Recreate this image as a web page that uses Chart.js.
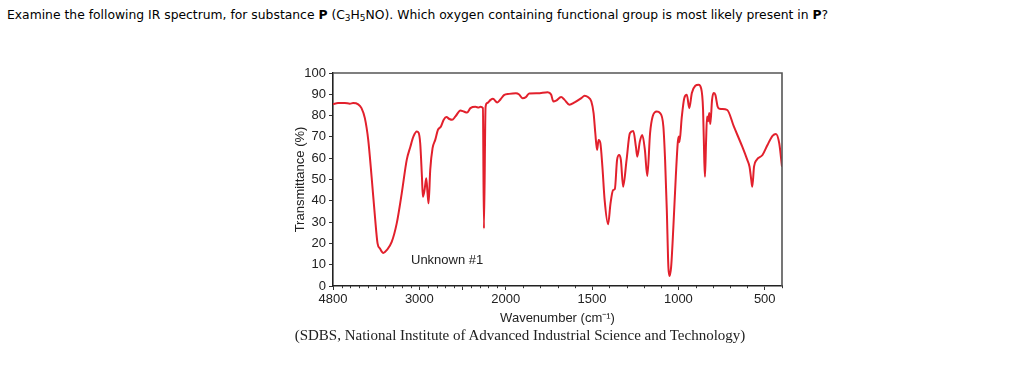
<!DOCTYPE html>
<html><head><meta charset="utf-8">
<script src="https://cdn.jsdelivr.net/npm/chart.js@4.4.0/dist/chart.umd.min.js"></script>
<style>
html,body{margin:0;padding:0;background:#fff;}
#wrap{position:relative;width:1024px;height:383px;overflow:hidden;}
#q{position:absolute;left:7px;top:8px;font-family:'DejaVu Sans',Verdana,sans-serif;font-size:12.35px;color:#000;white-space:nowrap;}
#q sub{font-size:9px;vertical-align:-2px;line-height:0;}
#cap{position:absolute;left:0;width:1040px;top:327px;text-align:center;font-family:'Liberation Serif','Times New Roman',serif;font-size:15px;color:#222;white-space:nowrap;}
canvas{position:absolute;left:0;top:0;}
</style></head>
<body><div id="wrap">
<div id="q">Examine the following IR spectrum, for substance <b>P</b> (C<sub>3</sub>H<sub>5</sub>NO). Which oxygen containing functional group is most likely present in <b>P</b>?</div>
<canvas id="c" width="1024" height="383"></canvas>
<div id="cap">(SDBS, National Institute of Advanced Industrial Science and Technology)</div>
</div>
<script>
// ---- data ----
const wavenumbers = [4000,3942,3864,3805,3767,3708,3670,3631,3592,3553,3514,3484,3456,3417,3378,3320,3262,3204,3146,3104,3068,3029,3009,2990,2970,2959,2940,2920,2905,2893,2874,2847,2816,2785,2750,2718,2687,2652,2621,2582,2524,2485,2447,2408,2350,2311,2292,2264,2252,2233,2214,2175,2148,2098,2059,2020,1980,1941,1922,1903,1883,1864,1815,1757,1737,1724,1708,1679,1660,1631,1601,1562,1543,1524,1504,1491,1481,1471,1462,1452,1440,1427,1407,1393,1378,1368,1355,1343,1333,1320,1300,1281,1261,1246,1238,1223,1209,1194,1180,1164,1149,1125,1106,1087,1077,1067,1058,1052,1042,1029,1015,1003,997,994,980,966,951,937,922,902,883,869,857,850,846,840,834,828,821,815,805,796,786,773,761,718,679,630,601,588,578,572,562,547,513,484,455,435,416,400];
const transmittance = [85.4,85.9,85.9,85.6,85.9,85.3,83.5,78.8,68.6,51.3,32.5,20,17.6,15.5,16.8,20.7,29.4,43.5,59.2,65.4,70.2,72.5,72,67,51.3,41.9,45,50.6,43.5,38.8,54.5,64.7,68.6,73.3,74.9,78,79.3,78.4,78,79.6,82.4,81.9,81.4,83.5,84.1,83.8,84.1,83.5,27,84.1,85.9,87.4,87.9,86.2,87.7,89.6,90.2,90.5,89.9,88.2,88.7,90.4,90.5,91,89.9,86.6,87,88.7,87.5,85.1,86.2,88.2,89.3,88.7,86.6,81.2,71.7,63.9,68.6,67.2,56,40.3,29,38.8,45,45.5,59.2,61.5,59.2,46.6,59.2,71.7,72.8,65.4,60.7,67.9,70.9,63.9,51.6,71.7,79.6,81.9,81.2,74.9,59.2,35.6,9,4.7,9,27.8,51.3,67.8,70.2,67.5,79.6,88.2,89.8,83.5,90.6,94,94.5,93,82.7,59.2,51.3,67,79.6,77.3,81.2,76,87.4,90.6,89.8,84.3,83.2,82.7,74.9,65.4,59.2,56,49.8,46.6,56,59.2,61.5,66.2,70.5,71.4,67,56];
const xTickValues = [4000,3500,3000,2500,2000,1500,1000,500];
const xTickLabels = ['4800','','3000','','2000','1500','1000','500'];
const xMinorTicks = [3900,3800,3700,3600,3400,3300,3200,3100,2900,2800,2700,2600,2400,2300,2200,2100,1900,1800,1700,1600,1400,1300,1200,1100,900,800,700,600,400];
const yTickValues = [0,10,20,30,40,50,60,70,80,90,100];

// ---- split wavenumber scale (1000 cm-1 per unit above 2000, 500 cm-1 per unit below) ----
function wnUnit(v){ return v >= 2000 ? (4000 - v) / 1000 : 2 + (2000 - v) / 500; }
class SplitWavenumberScale extends Chart.LinearScale {
  getPixelForValue(v){
    const a = wnUnit(this.max), b = wnUnit(this.min);
    return this.left + (wnUnit(v) - a) / (b - a) * this.width;
  }
  getValueForPixel(p){
    const a = wnUnit(this.max), b = wnUnit(this.min);
    const u = a + (p - this.left) / this.width * (b - a);
    return u <= 2 ? 4000 - u * 1000 : 2000 - (u - 2) * 500;
  }
}
SplitWavenumberScale.id = 'splitwn';
SplitWavenumberScale.defaults = Chart.LinearScale.defaults;
Chart.register(SplitWavenumberScale);

const framePlugin = {
  id: 'frame',
  afterDraw(chart){
    const {ctx, chartArea:a} = chart;
    const xs = chart.scales.x;
    ctx.save();
    ctx.strokeStyle = '#555';
    ctx.lineWidth = 1.6;
    ctx.beginPath();
    ctx.moveTo(a.left, a.top); ctx.lineTo(a.right, a.top); ctx.lineTo(a.right, a.bottom);
    ctx.stroke();
    ctx.strokeStyle = '#333';
    ctx.lineWidth = 1;
    ctx.beginPath();
    xMinorTicks.forEach(v => {
      const px = Math.round(xs.getPixelForValue(v)) + 0.5;
      ctx.moveTo(px, a.bottom); ctx.lineTo(px, a.bottom + 2.2);
    });
    ctx.stroke();
    ctx.restore();
  }
};

const tickFont = {family: "'Liberation Sans', Arial, sans-serif", size: 13};
new Chart(document.getElementById('c'), {
  type: 'line',
  data: {
    datasets: [{
      data: wavenumbers.map((w, i) => ({x: w, y: transmittance[i]})),
      borderColor: '#e2202c',
      borderWidth: 2,
      pointRadius: 0,
      cubicInterpolationMode: 'monotone',
      fill: false
    }]
  },
  options: {
    responsive: false,
    animation: false,
    events: [],
    layout: {padding: {left: 281, top: 73, right: 242, bottom: 52}},
    plugins: {
      legend: {display: false},
      tooltip: {enabled: false},
      title: {display: false}
    },
    scales: {
      x: {
        type: 'splitwn',
        min: 400, max: 4000,
        afterBuildTicks(s){ s.ticks = xTickValues.map(v => ({value: v})); },
        afterFit(s){ s.height = 45; },
        ticks: {
          autoSkip: false, maxRotation: 0, minRotation: 0, padding: 2,
          color: '#222', font: tickFont,
          callback(v){ const i = xTickValues.indexOf(v); return i >= 0 ? xTickLabels[i] : ''; }
        },
        grid: {display: true, drawOnChartArea: false, drawTicks: true, tickLength: 4, color: '#333', lineWidth: 1},
        border: {display: true, color: '#222', width: 1.6},
        title: {display: true, text: 'Wavenumber (cm\u207B\u00B9)', color: '#222', font: tickFont, padding: {top: 0, bottom: 5}}
      },
      y: {
        type: 'linear',
        min: 0, max: 100,
        afterBuildTicks(s){ s.ticks = yTickValues.map(v => ({value: v})); },
        afterFit(s){ s.width = 52; },
        ticks: {color: '#222', font: tickFont, padding: 3},
        grid: {display: true, drawOnChartArea: false, drawTicks: true, tickLength: 4, color: '#333', lineWidth: 1},
        border: {display: true, color: '#222', width: 1.6},
        title: {display: true, text: 'Transmittance (%)', color: '#222', font: tickFont, padding: {top: 12, bottom: 0}}
      }
    }
  },
  plugins: [framePlugin]
});
</script>
<div style="position:absolute;left:411px;top:252px;font-family:'Liberation Sans',Arial,sans-serif;font-size:13px;color:#222;">Unknown #1</div>
</body></html>
